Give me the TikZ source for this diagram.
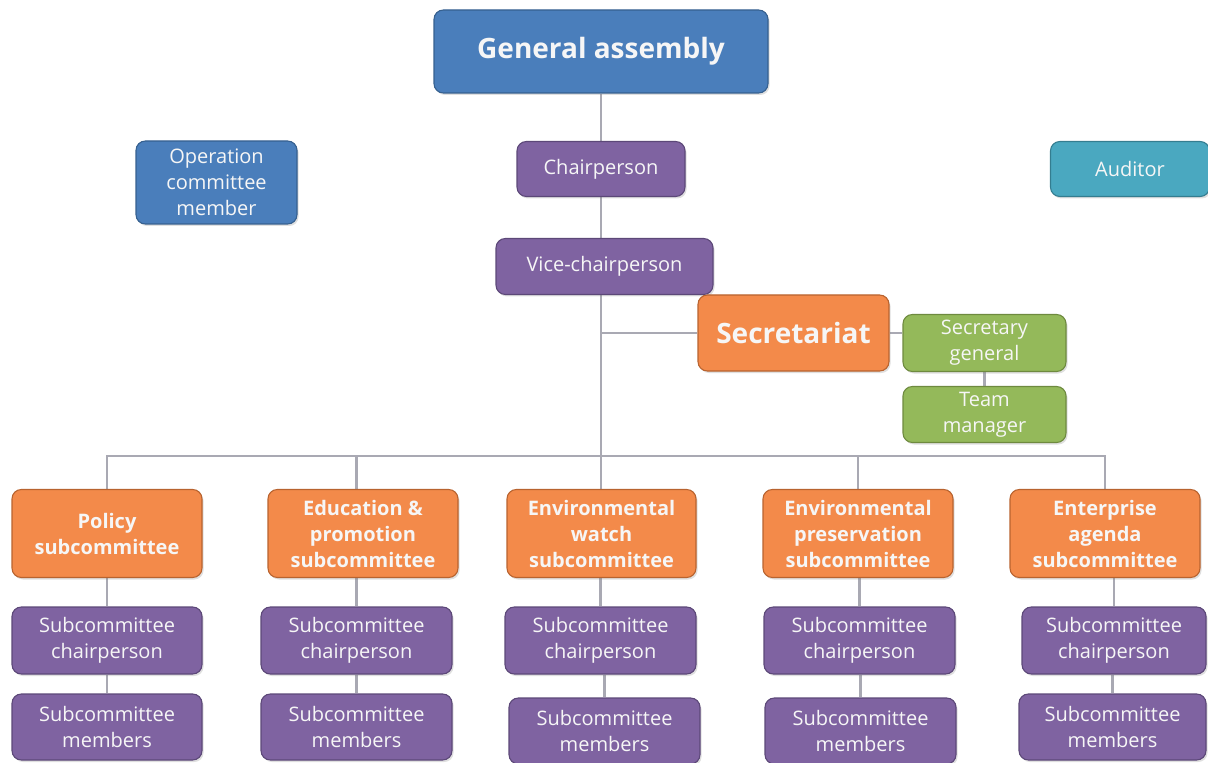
\documentclass[tikz,border=0pt]{standalone}
\usepackage{fontspec}
\setmainfont{Open Sans}
\usetikzlibrary{shadows,backgrounds}
\definecolor{cblue}{HTML}{4A7EBB}
\definecolor{cblueD}{HTML}{36608F}
\definecolor{cpurple}{HTML}{7F63A1}
\definecolor{cpurpleD}{HTML}{5C4878}
\definecolor{cteal}{HTML}{4AA8C0}
\definecolor{ctealD}{HTML}{347D90}
\definecolor{corange}{HTML}{F38A4A}
\definecolor{corangeD}{HTML}{B8632F}
\definecolor{cgreen}{HTML}{94B95A}
\definecolor{cgreenD}{HTML}{6E8A3F}
\definecolor{cline}{HTML}{A9A9B3}
\definecolor{ctext}{HTML}{F6F6F6}
\tikzset{
  wh/.style 2 args={minimum width=#1*0.75pt, minimum height=#2*0.75pt},
  box/.style={rounded corners=7pt, line width=0.8pt, align=center, inner sep=0pt,
    text=ctext, font=\fontsize{15}{19.5}\selectfont,
    drop shadow={opacity=0.25, shadow xshift=1.2pt, shadow yshift=-1.5pt}},
  bluebox/.style={box, fill=cblue, draw=cblueD},
  purplebox/.style={box, fill=cpurple, draw=cpurpleD},
  tealbox/.style={box, fill=cteal, draw=ctealD},
  greenbox/.style={box, fill=cgreen, draw=cgreenD},
  orangebox/.style={box, fill=corange, draw=corangeD, font=\fontsize{15}{19.5}\selectfont\bfseries},
  bigtext/.style={font=\fontsize{21}{25}\selectfont\bfseries},
  conn/.style={draw=cline, line width=2.2pt}
}
\begin{document}
\begin{tikzpicture}[x=0.75pt,y=-0.75pt]
\useasboundingbox (0,0) rectangle (1208,763);

\node[bluebox, bigtext, wh={334}{83}] (GA) at (601,51.5) {General assembly};
\node[bluebox, wh={161}{83}] (OCM) at (216.5,182.5) {Operation\\committee\\member};
\node[purplebox, wh={168}{55}] (Chair) at (601,169) {Chairperson};
\node[tealbox, wh={159}{55}] (Aud) at (1130,169) {Auditor};
\node[purplebox, wh={217}{56}] (Vice) at (604.5,266.5) {Vice-chairperson};
\node[orangebox, bigtext, wh={191}{76}] (Sec) at (793.5,333) {Secretariat};
\node[greenbox, wh={163}{57}] (SG) at (984.5,343) {Secretary\\general};
\node[greenbox, wh={163}{56}] (TM) at (984.5,414.5) {Team\\manager};

\node[orangebox, wh={190}{88}] (P1) at (107,533.5) {Policy\\subcommittee};
\node[orangebox, wh={190}{88}] (P2) at (363,533.5) {Education \&\\promotion\\subcommittee};
\node[orangebox, wh={189}{88}] (P3) at (601.5,533.5) {Environmental\\watch\\subcommittee};
\node[orangebox, wh={190}{88}] (P4) at (858,533.5) {Environmental\\preservation\\subcommittee};
\node[orangebox, wh={190}{88}] (P5) at (1105,533.5) {Enterprise\\agenda\\subcommittee};

\node[purplebox, wh={190}{67}] (C1) at (107,640.5) {Subcommittee\\chairperson};
\node[purplebox, wh={191}{67}] (C2) at (356.5,640.5) {Subcommittee\\chairperson};
\node[purplebox, wh={191}{67}] (C3) at (600.5,640.5) {Subcommittee\\chairperson};
\node[purplebox, wh={191}{67}] (C4) at (859.5,640.5) {Subcommittee\\chairperson};
\node[purplebox, wh={184}{67}] (C5) at (1114,640.5) {Subcommittee\\chairperson};

\node[purplebox, wh={190}{66}] (M1) at (107,727) {Subcommittee\\members};
\node[purplebox, wh={191}{66}] (M2) at (356.5,727) {Subcommittee\\members};
\node[purplebox, wh={191}{66}] (M3) at (604.5,731) {Subcommittee\\members};
\node[purplebox, wh={191}{66}] (M4) at (860.5,731) {Subcommittee\\members};
\node[purplebox, wh={187}{66}] (M5) at (1112.5,727) {Subcommittee\\members};

\coordinate (spine) at (601,456);

\begin{scope}[on background layer]
\draw[conn] (GA.south) -- (Chair.north);
\draw[conn] (Chair.south) -- (Chair.south |- Vice.north);
\draw[conn] (Chair.south |- Vice.south) -- (spine);
\draw[conn] (Sec.west) -- (Sec.west -| spine);
\draw[conn] (Sec.east) -- (Sec.east -| SG.west);
\draw[conn] (SG.south) -- (TM.north);
\draw[conn] (P1.north) |- (spine) -| (P5.north);
\draw[conn] (spine) -- (spine |- P3.north);
\draw[conn] (C2.north |- spine) -- (C2.north |- P2.north);
\draw[conn] (P4.north |- spine) -- (P4.north);
\draw[conn] (C1.north |- P1.south) -- (C1.north);
\draw[conn] (C2.north |- P2.south) -- (C2.north);
\draw[conn] (C3.north |- P3.south) -- (C3.north);
\draw[conn] (C4.north |- P4.south) -- (C4.north);
\draw[conn] (C5.north |- P5.south) -- (C5.north);
\draw[conn] (M1.north |- C1.south) -- (M1.north);
\draw[conn] (M2.north |- C2.south) -- (M2.north);
\draw[conn] (M3.north |- C3.south) -- (M3.north);
\draw[conn] (M4.north |- C4.south) -- (M4.north);
\draw[conn] (M5.north |- C5.south) -- (M5.north);
\end{scope}
\end{tikzpicture}
\end{document}
